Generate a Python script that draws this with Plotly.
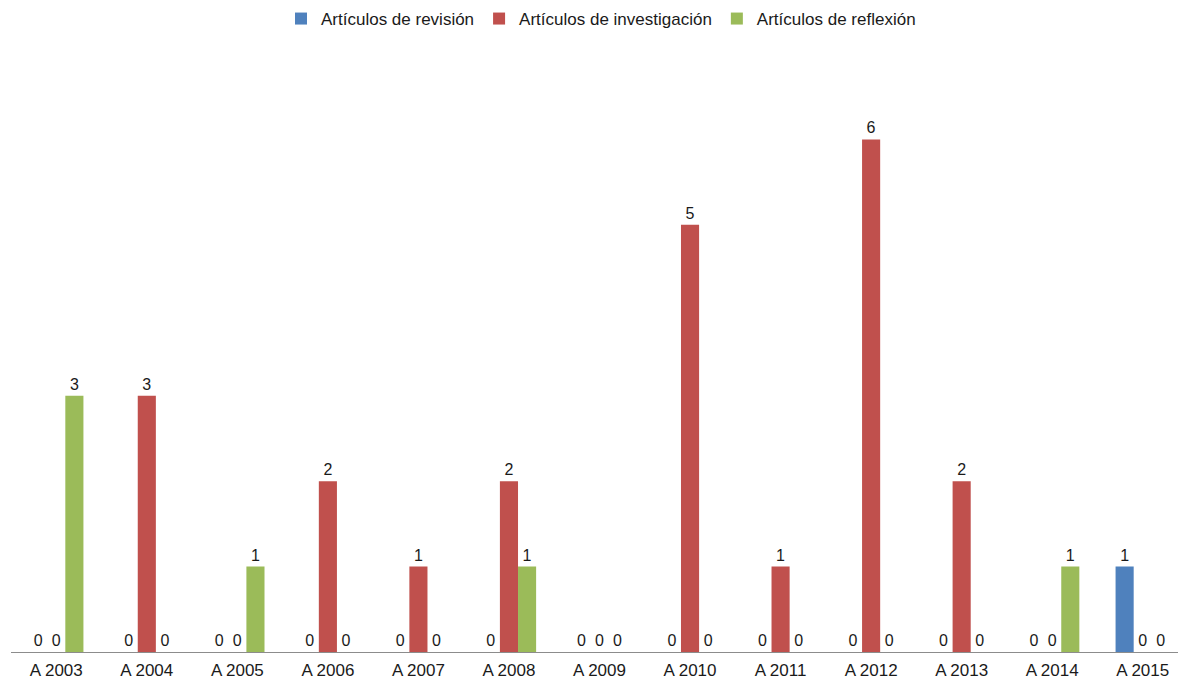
import plotly.graph_objects as go

years = ['A 2003', 'A 2004', 'A 2005', 'A 2006', 'A 2007', 'A 2008', 'A 2009',
         'A 2010', 'A 2011', 'A 2012', 'A 2013', 'A 2014', 'A 2015']
revision = [0, 0, 0, 0, 0, 0, 0, 0, 0, 0, 0, 0, 1]
investigacion = [0, 3, 0, 2, 1, 2, 0, 5, 1, 6, 2, 0, 0]
reflexion = [3, 0, 1, 0, 0, 1, 0, 0, 0, 0, 0, 1, 0]

series = [
    ('Artículos de revisión', revision, '#4F81BD'),
    ('Artículos de investigación', investigacion, '#C0504D'),
    ('Artículos de reflexión', reflexion, '#9BBB59'),
]

fig = go.Figure()
for name, vals, color in series:
    fig.add_trace(go.Bar(
        x=years, y=vals, name=name,
        marker=dict(color=color, line=dict(width=0)),
        text=vals, textposition='outside', cliponaxis=False,
        textfont=dict(color='#1a1a1a', size=16),
    ))

# the page body adds an 8px offset; margins compensate for it
fig.update_layout(
    width=1186, height=679,
    barmode='group', bargap=0.4, bargroupgap=0,
    paper_bgcolor='white', plot_bgcolor='white',
    font=dict(family='Liberation Sans, Arial, sans-serif', size=17, color='#1a1a1a'),
    margin=dict(l=3, r=6, t=45.5, b=35, autoexpand=False),
    showlegend=True,
    legend=dict(orientation='h', x=0.5, xanchor='center', xref='container',
                y=0.9838, yanchor='middle', yref='container',
                font=dict(size=17), itemwidth=30, tracegroupgap=0),
    xaxis=dict(showline=True, linecolor='#8c8c8c', linewidth=1, ticks='',
               showgrid=False, tickfont=dict(size=17), automargin=False,
               ticklabelstandoff=3),
    yaxis=dict(range=[0, 7], visible=False, showgrid=False, automargin=False),
)

fig.write_html("out.html")
